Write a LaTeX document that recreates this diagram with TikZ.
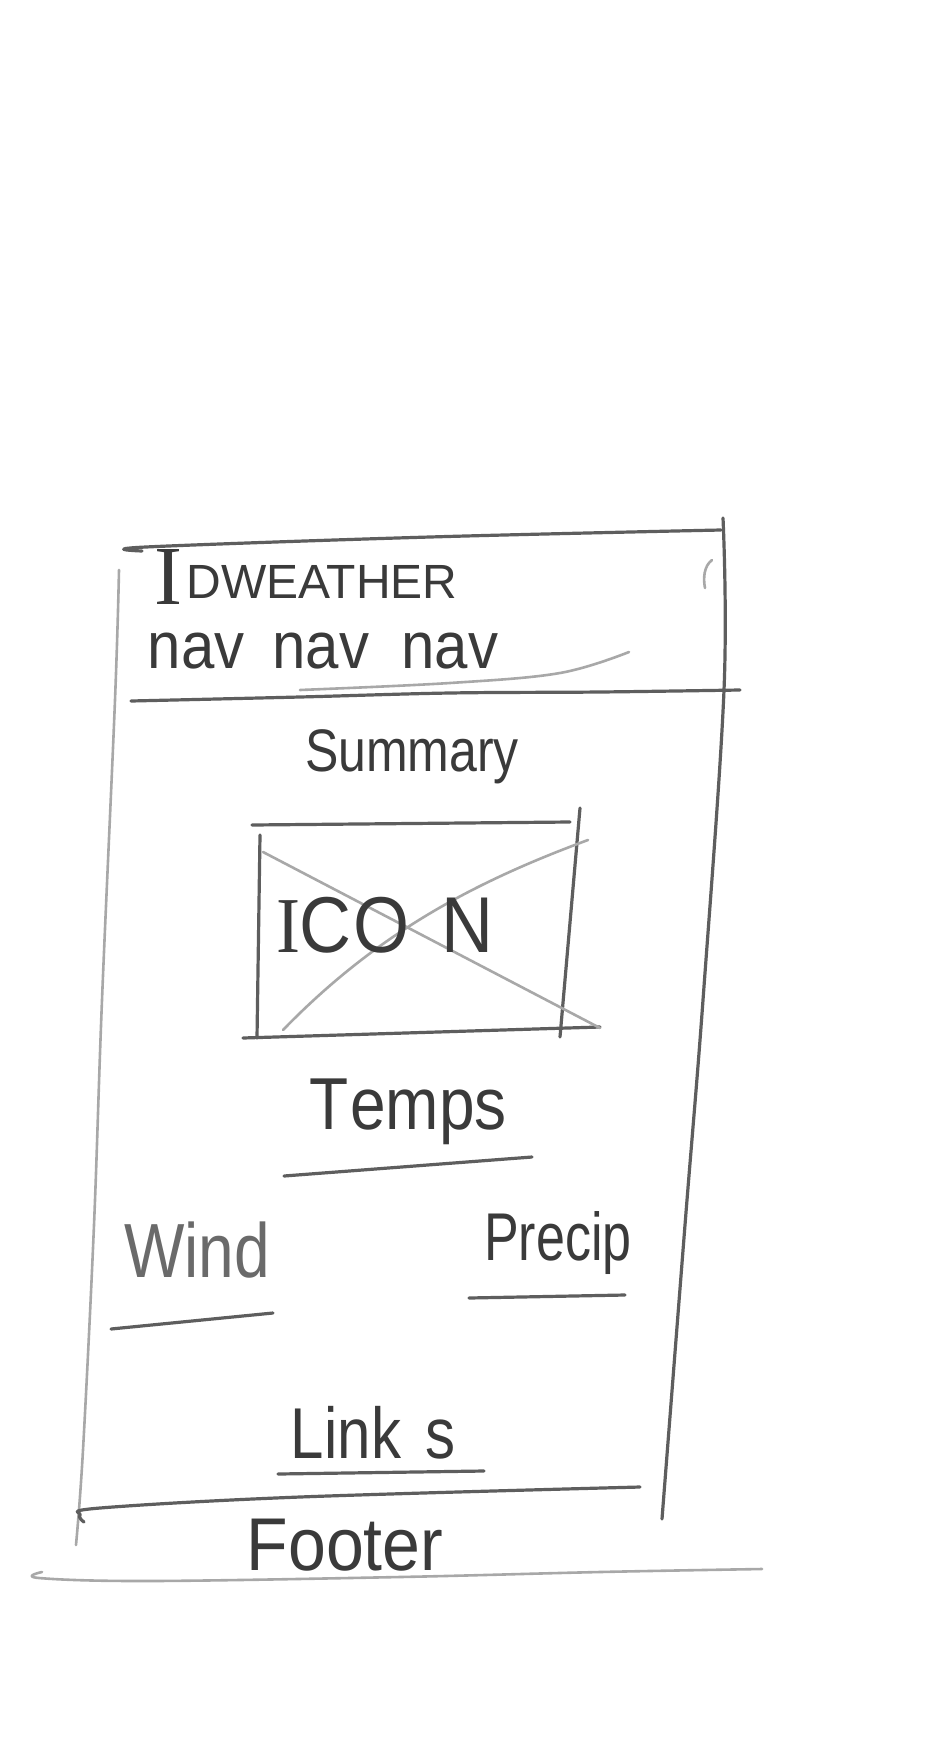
\documentclass[tikz,border=0pt]{standalone}
\usepackage{fontspec}
\usepackage{graphicx}
\setmainfont{Liberation Sans}
\newfontfamily\seriffam{Liberation Serif}
\definecolor{inkgray}{HTML}{3A3A3A}
\definecolor{lightink}{HTML}{6A6A6A}
\definecolor{pencilgray}{HTML}{5E5E5E}
\definecolor{faintgray}{HTML}{A8A8A8}
\newcommand{\tallhand}[2][1.2]{\scalebox{1}[#1]{#2}}
\newcommand{\handsz}[1]{\fontsize{#1}{#1}\selectfont}
\begin{document}
\begin{tikzpicture}[x=0.5pt,y=-0.5pt,
  pencil/.style={draw=pencilgray, line width=1.6pt, line cap=round, line join=round},
  faint/.style={draw=faintgray, line width=1.3pt, line cap=round, line join=round},
  hand/.style={text=inkgray, inner sep=0pt}]
% page
\fill[white] (0,0) rectangle (939,1744);
\useasboundingbox (0,0) rectangle (939,1744);

% outer frame of the phone screen
\draw[pencil] plot[smooth, tension=0.6] coordinates {(142,551) (146,547) (430,537) (721,530)};
\draw[pencil] plot[smooth, tension=0.6] coordinates {(723,518) (724,690) (703,1000) (685,1225) (662,1519)};
\draw[faint] plot[smooth, tension=0.6] coordinates {(119,570) (115,700) (102,1000) (94,1225) (83,1450) (76,1545)};
\draw[faint] (712,560) .. controls (704,566) and (703,578) .. (705,588);

% header
\node[hand, anchor=base west] (title) at (154,598)
  {\handsz{24}{\seriffam\handsz{42}\raisebox{-3pt}{I}}\kern2pt DWEATHER};
\node[hand] (nav) at (323,651) {\tallhand[1.1]{\handsz{30}nav\hspace{14pt}nav\hspace{16pt}nav}};
\draw[faint] plot[smooth, tension=0.6] coordinates {(300,690) (450,683) (560,673) (629,652)};
\draw[pencil] plot[smooth, tension=0.6] coordinates {(131,701) (300,697) (450,693) (600,692) (740,690)};

% summary and icon placeholder
\node[hand] (summary) at (412,757) {\tallhand{\handsz{25}Summary}};
\draw[pencil] (252,825) -- (570,822);
\draw[pencil] (260,835) -- (257,1038);
\draw[pencil] (580,808) -- (560,1037);
\draw[pencil] (243,1038) -- (600,1027);
\draw[faint] (263,852) -- (600,1028);
\draw[faint] (283,1030) .. controls (380,930) and (480,880) .. (588,840);
\node[hand] (icon) at (385,925) {\tallhand[1.1]{\handsz{36}{\seriffam I}C\kern1pt O\hspace{16pt}N}};

% temperatures
\node[hand] (temps) at (408,1112) {\tallhand[1.15]{\handsz{32}T\kern1pt emps}};
\draw[pencil] (284,1176) -- (532,1157);

% wind and precipitation
\node[hand, text=lightink] (wind) at (197,1250) {\tallhand{\handsz{32}Wind}};
\draw[pencil] (111,1329) -- (273,1313);
\node[hand] (precip) at (558,1243) {\tallhand[1.3]{\handsz{26}Precip}};
\draw[pencil] (469,1298) -- (625,1295);

% links
\node[hand] (links) at (373,1433) {\tallhand{\handsz{30}Link\hspace{12pt}s}};
\draw[pencil] (278,1474) -- (484,1471);

% footer
\draw[pencil] plot[smooth, tension=0.6] coordinates {(84,1522) (80,1515) (100,1508) (300,1497) (640,1487)};
\node[hand] (footer) at (345,1545) {\tallhand[1.1]{\handsz{34}Footer}};
\draw[faint] plot[smooth, tension=0.6] coordinates {(42,1572) (39,1578) (150,1581) (400,1577) (600,1572) (762,1569)};
\end{tikzpicture}
\end{document}
